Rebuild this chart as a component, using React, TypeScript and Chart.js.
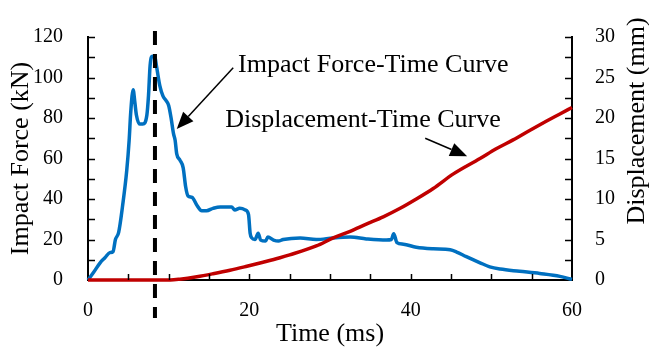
import React, { useEffect, useRef } from "react";
import { Chart, registerables } from "chart.js";
Chart.register(...registerables);

// Impact force (kN) vs time (ms)
const forceTime = [0, 0.7, 1.5, 2.1, 2.7, 3.1, 3.4, 3.8, 4.3, 4.8, 5.1, 5.3, 5.6, 5.8, 6.0, 6.4, 6.8, 7.3, 7.5, 7.7, 8.0, 8.3, 8.5, 8.9, 9.3, 9.7, 10.0, 10.3, 10.6, 10.8, 11.0, 11.4, 11.8, 12.1, 12.4, 12.9, 13.5, 14.1, 14.7, 15.5, 16.4, 17.2, 17.8, 18.2, 18.8, 19.5, 19.9, 20.1, 20.3, 20.7, 21.1, 21.4, 22.0, 22.3, 23.0, 23.6, 24.2, 26.3, 28.3, 30.4, 32.5, 34.5, 37.0, 37.6, 37.9, 38.3, 39.1, 40.7, 42.8, 44.9, 45.7, 46.9, 48.6, 49.8, 51.1, 53.5, 56.0, 58.5, 60.0];
const forceKN = [0, 3.8, 8.5, 11, 13.5, 14, 20, 23.5, 37, 54, 69, 83, 94, 88, 81.5, 77, 77, 81.5, 91, 106, 110.5, 110, 105.4, 96, 90.8, 88.5, 86.2, 80, 72.3, 69, 62.3, 59.2, 55.4, 46.2, 41.5, 40.8, 36.9, 34.2, 34.2, 35.4, 36.1, 36.1, 36.1, 34.6, 35.4, 34.6, 32.3, 23.1, 20.8, 20, 23.1, 19.7, 19.2, 21.2, 19.7, 19.2, 20, 20.8, 20, 20.8, 21.2, 20.3, 19.7, 20, 22.8, 18.5, 17.7, 16.2, 15.4, 14.9, 13.8, 11.5, 8.5, 6.5, 5.4, 4.3, 3.2, 1.8, 0.3];

// Displacement (mm) vs time (ms)
const dispTime = [0, 5, 10.2, 11.4, 13.5, 15.5, 17.6, 19.7, 21.7, 23.8, 25.0, 28.3, 30.4, 32.5, 34.5, 36.6, 38.7, 40.7, 42.8, 45.3, 48.6, 50.6, 52.7, 54.8, 56.8, 58.5, 60];
const dispMM = [0, 0, 0, 0.1, 0.4, 0.77, 1.2, 1.7, 2.2, 2.75, 3.1, 4.2, 5.2, 6.0, 6.9, 7.8, 8.85, 10.0, 11.3, 13.1, 15.0, 16.2, 17.3, 18.5, 19.6, 20.5, 21.3];

// Tick labels
const xTicks = [0, 20, 40, 60];
const yTicks = [0, 20, 40, 60, 80, 100, 120];
const y2Ticks = [0, 5, 10, 15, 20, 25, 30];

// Reference line (peak time) and annotations (data units: ms, kN)
const peakTime = 8.3;
const forceLabel = { text: "Impact Force-Time Curve", t: 18.6, f: 102.5, fromT: 18.0, fromF: 104.8, toT: 11.0, toF: 74.6 };
const dispLabel = { text: "Displacement-Time Curve", t: 17.0, f: 75.4, fromT: 41.8, fromF: 70.0, toT: 47.0, toF: 61.1 };

const FONT = "'Liberation Serif', 'Times New Roman', serif";

function arrow(ctx: CanvasRenderingContext2D, x0: number, y0: number, x1: number, y1: number) {
  const ang = Math.atan2(y1 - y0, x1 - x0);
  const len = 17, half = 7;
  const bx = x1 - len * Math.cos(ang), by = y1 - len * Math.sin(ang);
  ctx.beginPath();
  ctx.moveTo(x0, y0);
  ctx.lineTo(bx, by);
  ctx.lineWidth = 1.5;
  ctx.strokeStyle = "#000";
  ctx.stroke();
  ctx.beginPath();
  ctx.moveTo(x1, y1);
  ctx.lineTo(bx + half * Math.sin(ang), by - half * Math.cos(ang));
  ctx.lineTo(bx - half * Math.sin(ang), by + half * Math.cos(ang));
  ctx.closePath();
  ctx.fillStyle = "#000";
  ctx.fill();
}

const deco = {
  id: "deco",
  afterDatasetsDraw(chart: any) {
    const { ctx, chartArea: a, scales } = chart;
    const x = scales.x, y = scales.y, y2 = scales.y2;
    ctx.save();
    // inner tick marks
    ctx.strokeStyle = "#000";
    ctx.lineWidth = 1.5;
    ctx.beginPath();
    for (let v = 5; v < 60; v += 5) {
      const px = Math.round(x.getPixelForValue(v)) + 0.5;
      ctx.moveTo(px, a.bottom);
      ctx.lineTo(px, a.bottom - 6);
    }
    for (let v = 10; v <= 120; v += 10) {
      const py = Math.round(y.getPixelForValue(v)) + 0.5;
      ctx.moveTo(a.left, py);
      ctx.lineTo(a.left + 7, py);
    }
    for (let v = 2.5; v <= 30; v += 2.5) {
      const py = Math.round(y2.getPixelForValue(v)) + 0.5;
      ctx.moveTo(a.right, py);
      ctx.lineTo(a.right - 7, py);
    }
    ctx.stroke();

    // dashed peak line
    const dx = x.getPixelForValue(peakTime);
    ctx.beginPath();
    ctx.setLineDash([14, 9]);
    ctx.lineWidth = 4;
    ctx.moveTo(dx, a.top - 6);
    ctx.lineTo(dx, a.bottom + 38);
    ctx.stroke();
    ctx.setLineDash([]);

    // annotations
    ctx.font = `26px ${FONT}`;
    ctx.fillStyle = "#000";
    ctx.textAlign = "left";
    ctx.textBaseline = "alphabetic";
    for (const l of [forceLabel, dispLabel]) {
      ctx.fillText(l.text, x.getPixelForValue(l.t), y.getPixelForValue(l.f));
      arrow(ctx, x.getPixelForValue(l.fromT), y.getPixelForValue(l.fromF), x.getPixelForValue(l.toT), y.getPixelForValue(l.toF));
    }

    // right axis title (reads bottom to top)
    ctx.save();
    ctx.translate(637, 121);
    ctx.rotate(-Math.PI / 2);
    ctx.textAlign = "center";
    ctx.textBaseline = "middle";
    ctx.fillText("Displacement (mm)", 0, 0);
    ctx.restore();
    ctx.restore();
  },
};

export default function App() {
  const ref = useRef<HTMLCanvasElement | null>(null);
  useEffect(() => {
    if (!ref.current) return;
    const tickFont = { family: FONT, size: 20 };
    const chart = new Chart(ref.current, {
      type: "line",
      data: {
        datasets: [
          {
            label: "Displacement",
            data: dispTime.map((t, i) => ({ x: t, y: dispMM[i] })),
            yAxisID: "y2",
            borderColor: "#C00000",
            borderWidth: 3.5,
            pointRadius: 0,
            cubicInterpolationMode: "monotone",
            clip: false,
          },
          {
            label: "Impact Force",
            data: forceTime.map((t, i) => ({ x: t, y: forceKN[i] })),
            yAxisID: "y",
            borderColor: "#0070C0",
            borderWidth: 3.5,
            pointRadius: 0,
            cubicInterpolationMode: "monotone",
            clip: false,
          },
        ],
      },
      options: {
        animation: false,
        responsive: false,
        devicePixelRatio: 1,
        layout: { padding: { top: 20, left: 0, right: 0, bottom: 0 } },
        plugins: { legend: { display: false }, tooltip: { enabled: false } },
        scales: {
          x: {
            type: "linear",
            min: 0,
            max: 60,
            grid: { display: false, drawTicks: false },
            border: { color: "#000", width: 2 },
            ticks: { color: "#000", font: tickFont, padding: 19, autoSkip: false, maxRotation: 0 },
            afterBuildTicks: (s: any) => { s.ticks = xTicks.map((v) => ({ value: v })); },
            title: { display: true, text: "Time (ms)", color: "#000", font: { family: FONT, size: 26 }, padding: { top: 0, bottom: 0 } },
            afterFit: (s: any) => { s.height = 70; },
          },
          y: {
            type: "linear",
            position: "left",
            min: 0,
            max: 120,
            grid: { display: false, drawTicks: false },
            border: { color: "#000", width: 2 },
            ticks: { color: "#000", font: tickFont, padding: 25, autoSkip: false },
            afterBuildTicks: (s: any) => { s.ticks = yTicks.map((v) => ({ value: v })); },
            title: { display: true, text: "Impact Force (kN)", color: "#000", font: { family: FONT, size: 26 }, padding: { top: 6, bottom: 0 } },
            afterFit: (s: any) => { s.width = 88; },
          },
          y2: {
            type: "linear",
            position: "right",
            min: 0,
            max: 30,
            grid: { display: false, drawTicks: false },
            border: { color: "#000", width: 2 },
            ticks: { color: "#000", font: tickFont, padding: 23, autoSkip: false },
            afterBuildTicks: (s: any) => { s.ticks = y2Ticks.map((v) => ({ value: v })); },
            afterFit: (s: any) => { s.width = 77; },
          },
        },
      },
      plugins: [deco],
    } as any);
    return () => chart.destroy();
  }, []);
  return (
    <div style={{ position: "absolute", left: 0, top: 0, width: 649, height: 350, background: "#fff" }}>
      <canvas ref={ref} width={649} height={350} style={{ display: "block", width: 649, height: 350 }} />
    </div>
  );
}
